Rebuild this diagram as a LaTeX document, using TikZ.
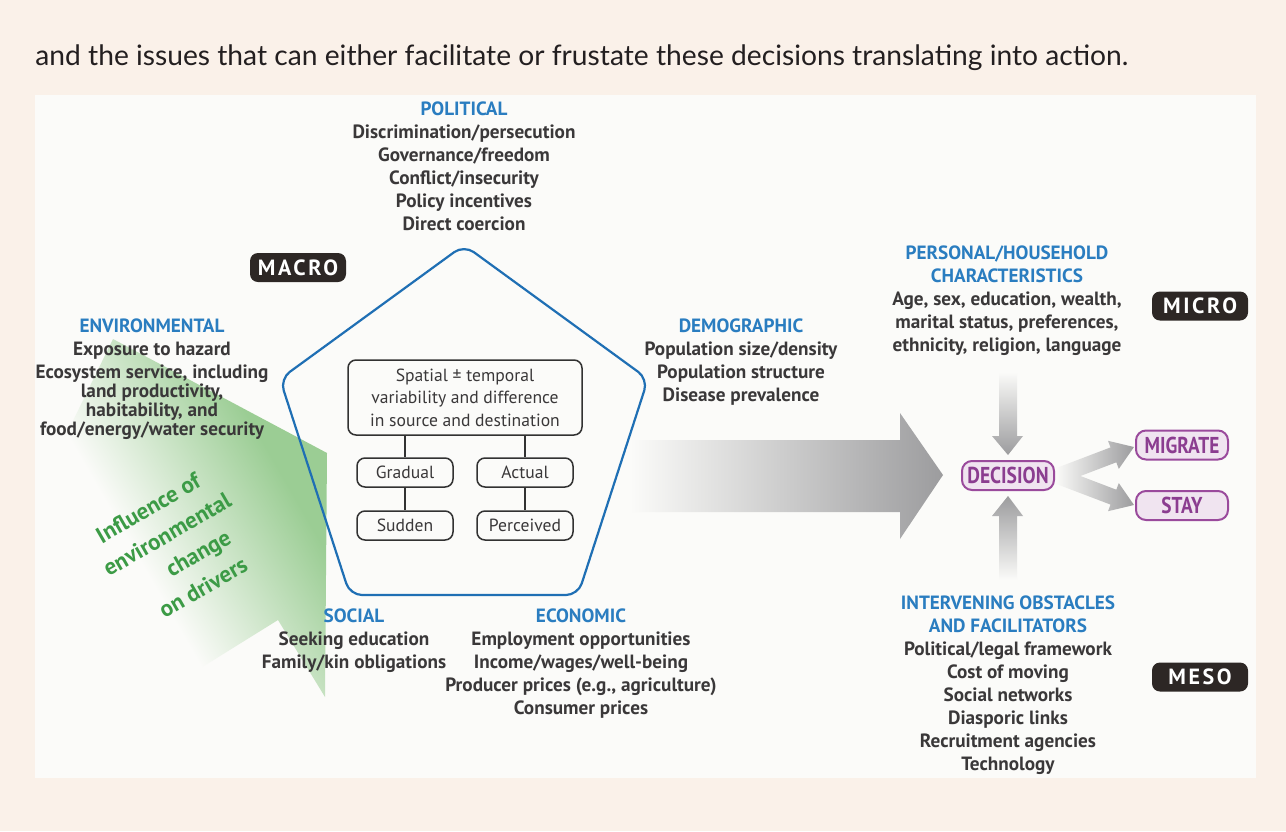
\documentclass[tikz,border=0pt]{standalone}
\usepackage{fontspec}
\setmainfont{PT Sans}
\newfontfamily\introfont{Lato}
\newfontfamily\badgefont{PT Sans}[LetterSpace=12]
\usepackage{graphicx}
\usetikzlibrary{calc}

\definecolor{pagebg}{RGB}{250,241,233}
\definecolor{panel}{RGB}{251,251,249}
\definecolor{introtext}{RGB}{35,31,32}
\definecolor{txtgray}{RGB}{58,56,57}
\definecolor{headblue}{RGB}{42,125,192}
\definecolor{pentblue}{RGB}{31,111,180}
\definecolor{boxline}{RGB}{50,50,50}
\definecolor{badgebg}{RGB}{45,39,37}
\definecolor{choiceline}{RGB}{154,74,156}
\definecolor{choicefill}{RGB}{240,228,240}
\definecolor{choicetext}{RGB}{139,61,144}
\definecolor{arrowgray}{RGB}{156,156,158}
\definecolor{envgreen}{RGB}{155,205,148}
\definecolor{envtext}{RGB}{60,155,70}

\pgfdeclarehorizontalshading{envfade}{100bp}{color(0bp)=(panel); color(40bp)=(panel); color(67bp)=(envgreen); color(100bp)=(envgreen)}

\newcommand{\drvhead}[1]{\textcolor{headblue}{#1}}

\tikzset{
  driver/.style={align=center, text=txtgray, inner sep=0pt, anchor=north,
    font=\bfseries\fontsize{9.6}{11.5}\selectfont},
  levelbadge/.style={fill=badgebg, rounded corners=4pt, text=white, inner sep=0pt,
    minimum width=48pt, minimum height=14.5pt, font=\badgefont\bfseries\fontsize{11}{12}\selectfont},
  factorbox/.style={draw=boxline, line width=0.75pt, rounded corners=4pt, inner sep=0pt,
    minimum width=48pt, minimum height=14.5pt, text=txtgray, align=center,
    font=\fontsize{8.8}{11.25}\selectfont},
  choicebox/.style={draw=choiceline, fill=choicefill, line width=1pt, rounded corners=5pt,
    inner sep=0pt, minimum width=46pt, minimum height=14.5pt, text=choicetext,
    font=\bfseries\fontsize{11.5}{12}\selectfont},
  link/.style={draw=boxline, line width=0.75pt}
}

\begin{document}
\begin{tikzpicture}[x=0.5pt, y=-0.5pt]
\useasboundingbox (0,0) rectangle (1286,831);
\fill[pagebg] (0,0) rectangle (1286,831);
\fill[panel] (35,95) rectangle (1256,778);

\node[anchor=west, inner sep=0pt, text=introtext, font=\introfont\fontsize{14.1}{16}\selectfont] (intro) at (35,58)
  {and the issues that can either facilitate or frustate these decisions translating into action.};

% environmental influence
\shade[shading=envfade, shading angle=30]
  (113,339) -- (327,453) -- (325,697) -- (278,620) -- (175,684) -- (45,478) -- cycle;
\node[rotate=30, text=envtext, align=center, font=\bfseries\fontsize{11.5}{16}\selectfont] (influence) at (175,548)
  {Influence of\hspace*{3.5pt}\\environmental\hspace*{18.5pt}\\\hspace*{17.5pt}change\\\hspace*{4.5pt}on drivers};

\draw[pentblue, line width=1.1pt, rounded corners=6pt]
  (464,595) -- (578,595) -- (648,379) -- (464,245) -- (280,379) -- (350,595) -- cycle;

% gray arrows
\shade[left color=panel, right color=arrowgray]
  (630,440) -- (900,440) -- (900,413) -- (943,475) -- (900,539) -- (900,512) -- (630,512) -- cycle;
\shade[top color=panel, bottom color=arrowgray]
  (999,372) -- (999,436) -- (992,436) -- (1008,455) -- (1023,436) -- (1017,436) -- (1017,372) -- cycle;
\shade[top color=arrowgray, bottom color=panel]
  (999,580) -- (999,516) -- (992,516) -- (1008,496) -- (1023,516) -- (1017,516) -- (1017,580) -- cycle;
\shade[left color=panel, right color=arrowgray]
  (1055.1,468.5) -- (1110.5,447.4) -- (1108.0,440.8) -- (1134,447) -- (1118.8,468.9) -- (1116.3,462.3)
  -- (1080.4,476) -- (1116.3,489.7) -- (1118.8,483.1) -- (1134,505) -- (1108.0,511.2) -- (1110.5,504.6)
  -- (1055.1,483.5) -- cycle;

\node[driver] (political) at (464,101) {\drvhead{POLITICAL}\\Discrimination/persecution\\Governance/freedom\\Conflict/insecurity\\Policy incentives\\Direct coercion};
\node[driver] (environmental) at (152,318) {\drvhead{ENVIRONMENTAL}\\Exposure to hazard\\Ecosystem service, including\\[-2pt]land productivity,\\[-2pt]habitability, and\\[-2pt]food/energy/water security};
\node[driver] (demographic) at (741,318) {\drvhead{DEMOGRAPHIC}\\Population size/density\\Population structure\\Disease prevalence};
\node[driver] (social) at (354,608) {\drvhead{SOCIAL}\\Seeking education\\Family/kin obligations};
\node[driver] (economic) at (581,608) {\drvhead{ECONOMIC}\\Employment opportunities\\Income/wages/well-being\\Producer prices (e.g., agriculture)\\Consumer prices};
\node[driver] (personal) at (1007,245) {\drvhead{PERSONAL/HOUSEHOLD}\\\drvhead{CHARACTERISTICS}\\Age, sex, education, wealth,\\marital status, preferences,\\ethnicity, religion, language};
\node[driver] (intervening) at (1008,595) {\drvhead{INTERVENING OBSTACLES}\\\drvhead{AND FACILITATORS}\\Political/legal framework\\Cost of moving\\Social networks\\Diasporic links\\Recruitment agencies\\Technology};

\node[levelbadge] (macro) at (298,267.5) {MACRO};
\node[levelbadge] (micro) at (1200,306) {MICRO};
\node[levelbadge] (meso) at (1200,677) {MESO};

\node[factorbox, minimum width=117pt, minimum height=37.5pt] (spatial) at (465,397.5) {Spatial ± temporal\\variability and difference\\in source and destination};
\node[factorbox] (gradual) at (405,472.5) {Gradual};
\node[factorbox] (actual) at (525,472.5) {Actual};
\node[factorbox] (sudden) at (405,525.5) {Sudden};
\node[factorbox] (perceived) at (525,525.5) {Perceived};
\draw[link] (spatial.south -| gradual.north) -- (gradual.north);
\draw[link] (spatial.south -| actual.north) -- (actual.north);
\draw[link] (gradual) -- (sudden);
\draw[link] (actual) -- (perceived);

\node[choicebox] (decision) at (1008,475.5) {\scalebox{0.85}[1]{DECISION}};
\node[choicebox] (migrate) at (1182,445) {\scalebox{0.84}[1]{MIGRATE}};
\node[choicebox] (stay) at (1182,505.5) {\scalebox{0.84}[1]{STAY}};
\end{tikzpicture}
\end{document}
